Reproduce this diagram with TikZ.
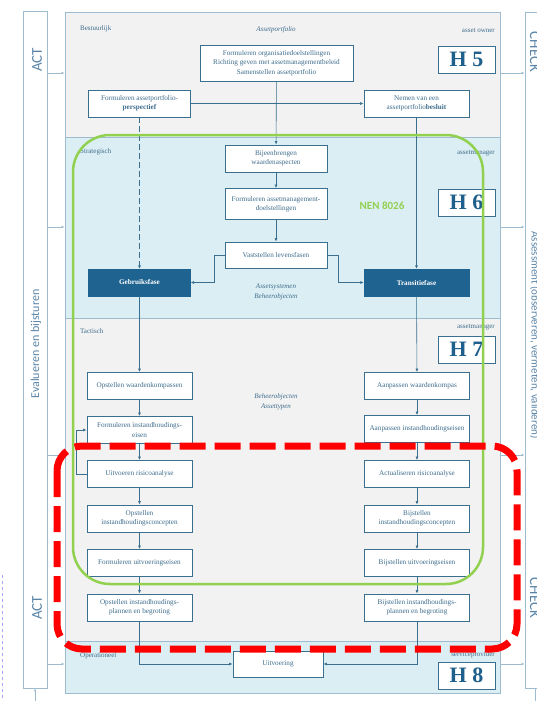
\documentclass[tikz,border=0pt]{standalone}
\usepackage{fontspec}
\setmainfont{Liberation Serif}
\newfontfamily\sidefont{Carlito}
\usepackage{xcolor}
\definecolor{boxline}{HTML}{3A6F8F}
\definecolor{boxtext}{HTML}{3E6C8C}
\definecolor{bandgray}{HTML}{F2F2F2}
\definecolor{bandblue}{HTML}{DAEEF3}
\definecolor{frameline}{HTML}{9DBCCF}
\definecolor{phasefill}{HTML}{1F6391}
\definecolor{hblue}{HTML}{1F5F8B}
\definecolor{nengreen}{HTML}{92D050}
\definecolor{sidetext}{HTML}{5A85A8}
\usetikzlibrary{positioning}
\usetikzlibrary{arrows.meta}

\tikzset{
  box/.style={draw=boxline,line width=0.9pt,fill=white,text=boxtext,align=center,
    font=\fontsize{7.2}{9.4}\selectfont,inner sep=1pt},
  colbox/.style={box,minimum width=105pt,minimum height=27pt},
  midbox/.style={box,minimum width=102pt,minimum height=27pt},
  phase/.style={draw=phasefill,fill=phasefill,text=white,
    font=\fontsize{7.2}{9}\selectfont\bfseries,minimum width=102pt,minimum height=27pt},
  hbox/.style={draw=boxline,line width=0.9pt,fill=white,text=hblue,
    font=\fontsize{22}{22}\selectfont\bfseries,minimum width=57pt,minimum height=27pt,inner sep=0pt},
  levellabel/.style={text=boxtext,font=\fontsize{7}{8}\selectfont,anchor=west,inner sep=0pt},
  rolelabel/.style={text=boxtext,font=\fontsize{7}{8}\selectfont,anchor=east,inner sep=0pt},
  objlabel/.style={text=boxtext,font=\fontsize{7}{9.5}\selectfont\itshape,align=center},
  flow/.style={draw=boxline,line width=0.6pt,-{Latex[length=3.5pt,width=3pt]}},
  link/.style={draw=frameline,line width=0.7pt,-{Latex[length=3pt,width=2.5pt]}},
  sidelabel/.style={text=sidetext,font=\sidefont\fontsize{15}{15}\selectfont},
}

\begin{document}
\begin{tikzpicture}[x=1pt,y=-1pt]
\useasboundingbox (0,0) rectangle (537,701);

% levels
\fill[bandgray] (65,12) rectangle (500,137);
\fill[bandblue] (65,137) rectangle (500,318);
\fill[bandgray] (65,318) rectangle (500,641);
\fill[bandblue] (65,641) rectangle (500,693);
\draw[frameline,line width=0.7pt] (65,137) -- (500,137) (65,318) -- (500,318) (65,641) -- (500,641);
\node (frame) at (282.5,352.5) [draw=frameline,line width=0.7pt,minimum width=435pt,minimum height=681pt,inner sep=0pt]{};

% side columns
\node (act) at (35,349.5) [draw=frameline,line width=0.7pt,fill=white,minimum width=24pt,minimum height=677pt,inner sep=0pt]{};
\node (check) at (545,350) [draw=frameline,line width=0.7pt,fill=white,minimum width=40pt,minimum height=676pt,inner sep=0pt]{};
\node (act-top) at (37,60) [sidelabel,rotate=90]{ACT};
\node (act-mid) at (36,344) [sidelabel,rotate=90,font=\sidefont\fontsize{12}{12}\selectfont]{Evalueren en bijsturen};
\node (act-bot) at (37,608) [sidelabel,rotate=90]{ACT};
\node (check-top) at (535,52) [sidelabel,rotate=-90]{CHECK};
\node (check-mid) at (535,335) [sidelabel,rotate=-90,font=\sidefont\fontsize{11}{11}\selectfont]{Assessment (observeren, vermeten, valideren)};
\node (check-bot) at (535,598) [sidelabel,rotate=-90]{CHECK};
\foreach \y in {73,227,455,664} {
  \draw[link] (act.east |- 0,\y) -- (frame.west |- 0,\y);
  \draw[link] (frame.east |- 0,\y) -- (check.west |- 0,\y);
}
\draw[frameline,line width=0.7pt,{Latex[length=3pt,width=2.5pt]}-] (act.south) -- ++(0,13);
\draw[frameline,line width=0.7pt] (check.south -| 535,0) -- ++(0,13);
\draw[blue!35,line width=1pt,dashed] (2,575) -- (2,701);

% labels
\node (l-bestuur) at (80,29) [levellabel]{Bestuurlijk};
\node (l-strat) at (80,152) [levellabel]{Strategisch};
\node (l-tact) at (80,331) [levellabel]{Tactisch};
\node (l-oper) at (80,656) [levellabel]{Operationeel};
\node (r-owner) at (495,31) [rolelabel]{asset owner};
\node (r-manager) at (495,153) [rolelabel]{assetmanager};
\node (r-manager2) at (495,327) [rolelabel]{assetmanager};
\node (r-provider) at (495,655) [rolelabel]{serviceprovider};
\node (o-portfolio) at (276,30) [objlabel]{Assetportfolio};
\node (o-systemen) at (276,292) [objlabel]{Assetsystemen\\Beheerobjecten};
\node (o-typen) at (276,402) [objlabel]{Beheerobjecten\\Assettypen};
\node (nen) at (382,206) [text=nengreen,font=\sidefont\bfseries\fontsize{11}{11}\selectfont]{NEN 8026};

\node (h5) at (466.5,59.5) [hbox]{H 5};
\node (h6) at (466.5,202.5) [hbox]{H 6};
\node (h7) at (466.5,349.5) [hbox]{H 7};
\node (h8) at (466.5,675.5) [hbox]{H 8};

% bestuurlijk and strategisch
\node (org) at (276.5,63) [box,minimum width=153pt,minimum height=36pt]{Formuleren organisatiedoelstellingen\\Richting geven met assetmanagementbeleid\\Samenstellen assetportfolio};
\node (persp) at (139.5,103.5) [midbox]{Formuleren assetportfolio-\\\textbf{perspectief}};
\node (besluit) at (416.5,103.5) [colbox]{Nemen van een\\assetportfolio\textbf{besluit}};
\node (waarden) at (276,158.5) [midbox]{Bijeenbrengen\\waardenaspecten};
\node (doelen) at (276,204) [midbox,minimum height=31pt]{Formuleren assetmanagement-\\doelstellingen};
\node (levens) at (276,255) [midbox,minimum height=26pt]{Vaststellen levensfasen};
\node (gebruik) at (139.5,282.5) [phase]{Gebruiksfase};
\node (transitie) at (416.5,282.5) [phase,minimum width=105pt]{Transitiefase};

% tactisch
\node (l-kompas) at (139.5,386) [colbox]{Opstellen waardenkompassen};
\node (l-eisen) at (139.5,430) [colbox]{Formuleren instandhoudings-\\eisen};
\node (l-risico) at (139.5,474) [colbox]{Uitvoeren risicoanalyse};
\node (l-concept) at (139.5,518.5) [colbox]{Opstellen\\instandhoudingsconcepten};
\node (l-uitvoer) at (139.5,563) [colbox]{Formuleren uitvoeringseisen};
\node (l-plan) at (139.5,607.5) [colbox]{Opstellen instandhoudings-\\plannen en begroting};
\node (r-kompas) at (417,386) [colbox]{Aanpassen waardenkompas};
\node (r-eisen) at (417,429) [colbox]{Aanpassen instandhoudingseisen};
\node (r-risico) at (417,474) [colbox]{Actualiseren risicoanalyse};
\node (r-concept) at (417,518.5) [colbox]{Bijstellen\\instandhoudingsconcepten};
\node (r-uitvoer) at (417,563) [colbox]{Bijstellen uitvoeringseisen};
\node (r-plan) at (417,607.5) [colbox]{Bijstellen instandhoudings-\\plannen en begroting};

% operationeel
\node (uitv) at (278,664) [box,minimum width=90pt,minimum height=26pt]{Uitvoering};

% flows
\draw[flow] (org) -- (waarden);
\draw[flow] (persp) -- (besluit);
\draw[flow,dash pattern=on 6pt off 3pt] (persp) -- (gebruik);
\draw[flow] (besluit) -- (transitie);
\draw[flow] (waarden) -- (doelen);
\draw[flow] (doelen) -- (levens);
\draw[flow] (levens.west) -- ++(-10,0) |- (gebruik.east);
\draw[flow] (levens.east) -- ++(11,0) |- (transitie.west);
\draw[flow] (gebruik) -- (l-kompas);
\draw[flow] (transitie) -- (r-kompas);
\foreach \a/\b in {kompas/eisen,eisen/risico,risico/concept,concept/uitvoer,uitvoer/plan} {
  \draw[flow] (l-\a) -- (l-\b);
  \draw[flow] (r-\a) -- (r-\b);
}
\draw[flow] (l-risico.west) -- ++(-10,0) |- (l-eisen.west);
\draw[flow] (l-plan.south) |- (uitv.west);
\draw[flow] (r-plan.south) |- (uitv.east);

% norm scope and focus
\draw[nengreen,line width=2.5pt,rounded corners=37pt] (73,135) rectangle (483,584);
\draw[red,line width=7pt,rounded corners=25pt,dash pattern=on 26pt off 9pt] (57,446) rectangle (517,649);
\end{tikzpicture}
\end{document}
